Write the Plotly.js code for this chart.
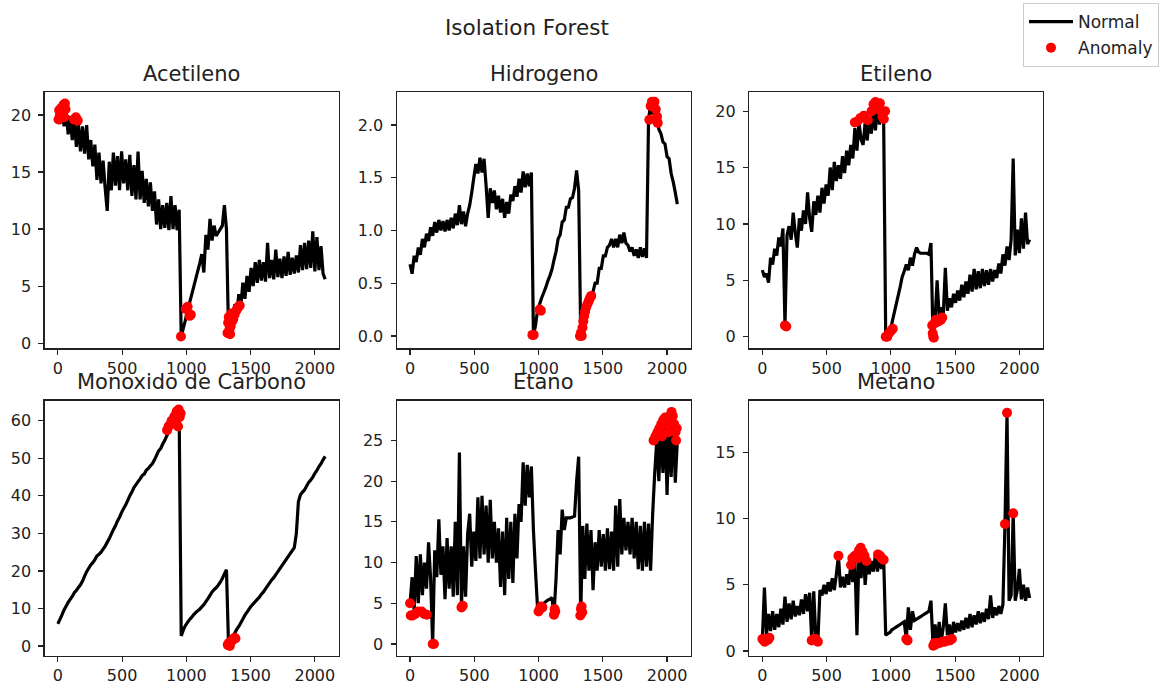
<!DOCTYPE html>
<html><head><meta charset="utf-8">
<script src="https://cdn.plot.ly/plotly-3.0.1.min.js"></script>
<style>html,body{margin:0;padding:0;background:#fff}#chart{width:1159px;height:685px}</style>
</head><body><div id="chart"></div>
<script>
// sample spacing of the series index (every 16th observation)
const STEP = 16;

const acetileno = [
20.5,19.2,20.8,19.0,20.3,18.3,19.9,17.8,19.6,17.2,
19.2,16.8,19.0,16.6,19.1,16.1,17.8,15.5,17.4,14.3,
16.7,14.0,16.0,13.6,11.6,15.9,13.4,16.7,13.8,16.4,
13.4,16.8,14.0,16.1,13.4,16.5,12.9,15.6,12.6,16.8,
12.6,15.1,12.3,14.4,12.0,14.1,11.6,13.3,10.4,12.6,
10.0,12.1,10.1,12.3,9.9,12.9,10.0,12.1,9.9,11.7,
0.6,1.3,2.0,2.8,3.5,4.2,4.9,5.6,6.3,7.0,
7.8,6.2,9.5,8.2,10.9,9.0,10.3,9.4,9.7,10.0,
10.3,12.1,10.0,1.0,2.6,1.4,3.4,2.5,4.3,3.3,
5.3,3.9,5.9,4.5,6.6,5.0,7.1,5.3,7.3,5.5,
7.1,5.4,8.8,5.7,7.3,5.6,8.2,5.8,7.4,5.7,
7.6,5.9,8.0,6.0,7.5,6.1,7.7,6.2,8.6,6.4,
8.8,6.5,9.0,6.6,9.8,6.3,9.3,6.4,8.5,6.1,
5.6];
const acetilenoAnomX = [5,10,15,25,35,45,55,60,50,125,140,155,958,995,1010,1025,1035,1320,1325,1330,1335,1340,1345,1350,1355,1365,1375,1385,1395,1405,1415];
const acetilenoAnomY = [19.6,20.4,19.9,20.6,20.2,20.9,21.0,20.5,19.8,19.6,19.8,19.5,0.6,3.0,3.2,2.4,2.5,0.9,1.8,2.3,1.2,0.8,1.5,2.6,1.9,2.1,2.5,2.8,3.0,3.2,3.3];

const hidrogeno = [
0.68,0.59,0.76,0.70,0.84,0.77,0.92,0.84,0.97,0.90,
1.03,0.95,1.08,0.98,1.10,1.00,1.09,0.99,1.10,1.00,
1.12,1.02,1.16,1.05,1.24,1.06,1.18,1.04,1.16,1.24,
1.36,1.50,1.63,1.54,1.69,1.55,1.68,1.42,1.12,1.40,
1.26,1.38,1.20,1.33,1.17,1.30,1.12,1.27,1.16,1.34,
1.28,1.42,1.32,1.49,1.36,1.56,1.41,1.54,1.42,1.55,
0.00,0.10,0.24,0.30,0.36,0.41,0.46,0.52,0.57,0.63,
0.72,0.80,0.92,0.96,1.08,1.10,1.22,1.22,1.30,1.31,
1.40,1.57,1.38,0.02,0.10,0.18,0.25,0.30,0.35,0.42,
0.50,0.50,0.64,0.64,0.76,0.76,0.84,0.86,0.92,0.84,
0.92,0.84,0.96,0.88,0.98,0.88,0.86,0.80,0.84,0.76,
0.82,0.74,0.84,0.75,0.83,0.74,2.05,2.20,2.10,2.22,
2.08,1.96,1.92,1.84,1.82,1.70,1.68,1.54,1.46,1.36,
1.25];
const hidrogenoAnomX = [952,962,1008,1018,1322,1330,1336,1342,1348,1355,1362,1370,1380,1390,1400,1410,1862,1872,1882,1892,1902,1912,1922,1927];
const hidrogenoAnomY = [0.01,0.01,0.25,0.24,0.0,0.03,0.0,0.08,0.14,0.19,0.23,0.27,0.30,0.33,0.36,0.38,2.05,2.18,2.22,2.20,2.22,2.15,2.08,2.02];

const etileno = [
5.9,5.3,5.6,4.8,7.0,6.4,7.8,7.2,8.8,8.0,
9.6,1.0,9.0,9.8,8.6,11.0,9.2,7.9,10.5,9.4,
11.2,10.0,12.8,10.5,9.3,12.0,10.8,12.5,11.0,13.2,
11.8,13.5,12.5,15.0,13.0,15.5,13.8,15.2,14.0,16.0,
14.5,16.5,15.2,17.0,15.8,18.5,16.5,19.0,17.5,17.0,
19.0,17.4,19.5,18.0,20.0,18.3,20.5,18.8,20.7,19.0,
0.0,0.3,0.5,1.2,2.0,2.8,3.6,4.4,5.3,5.8,
6.4,5.9,7.0,6.3,7.3,7.9,7.5,7.4,7.4,7.4,
7.4,7.3,8.3,0.0,1.5,5.0,1.8,2.6,2.0,6.1,
2.3,3.4,2.6,3.8,3.0,4.1,3.2,4.6,3.5,4.9,
3.8,5.5,4.0,6.0,4.2,5.8,4.3,6.0,4.5,5.9,
4.6,6.0,4.9,5.9,5.2,6.5,5.6,7.3,6.3,8.0,
6.8,8.6,15.8,7.2,9.5,7.4,10.5,7.8,11.0,8.2,
8.6];
const etilenoAnomX = [176,186,720,740,765,790,820,850,865,880,895,905,915,925,935,945,955,960,972,985,1000,1015,1322,1326,1330,1334,1340,1350,1362,1375,1390,1400];
const etilenoAnomY = [1.0,0.9,19.0,19.1,19.4,19.6,19.2,20.0,20.6,20.8,20.5,20.2,20.7,20.0,19.5,19.3,20.0,0.0,0.0,0.3,0.5,0.7,1.0,0.3,0.0,-0.1,1.2,1.5,1.3,1.4,1.5,1.7];

const monoxido = [
5.9,7.1,8.3,9.6,10.6,11.6,12.4,13.2,14.2,14.8,
15.6,16.3,17.3,18.6,19.8,20.7,21.6,22.2,23.0,24.0,
24.4,25.0,25.8,26.6,27.6,28.6,29.8,31.0,32.0,33.3,
34.3,35.6,36.6,37.6,38.8,40.0,41.0,42.2,43.0,43.8,
44.5,45.4,45.8,46.8,47.3,48.0,48.6,49.6,50.8,52.0,
52.6,53.8,54.8,56.0,57.2,58.4,59.5,60.2,61.0,61.4,
2.7,4.2,5.4,6.2,7.0,7.6,8.3,8.9,9.4,9.8,
10.4,11.0,11.8,12.6,13.5,14.4,15.0,15.5,16.2,17.0,
18.0,19.2,20.3,0.4,1.5,2.4,3.4,4.4,5.2,6.2,
7.2,8.2,9.0,9.8,10.6,11.2,11.8,12.4,13.0,13.8,
14.4,15.2,16.0,16.8,17.6,18.2,19.0,19.8,20.6,21.4,
22.2,23.0,23.8,24.6,25.4,26.2,30.0,38.5,40.3,41.0,
41.6,42.6,43.6,44.2,45.0,46.0,46.8,47.8,48.6,49.6,
50.5];
const monoxidoAnomX = [850,862,875,885,895,905,915,925,935,940,948,955,1322,1330,1338,1346,1355,1365,1375,1382];
const monoxidoAnomY = [57.5,58.5,59.0,60.0,59.5,61.0,61.5,62.5,58.5,63.0,61.0,62.0,0.3,0.8,0.0,1.0,1.5,1.8,2.2,2.0];

const etano = [
5.0,8.2,4.0,10.8,5.0,11.0,6.0,10.0,6.8,12.5,
8.0,0.0,11.5,8.2,15.3,8.5,12.0,5.5,13.0,6.8,
12.0,5.8,15.0,6.0,23.5,4.6,12.0,5.8,13.5,16.0,
9.5,13.8,10.2,18.0,10.5,18.2,11.0,17.0,10.0,17.7,
10.5,15.0,10.0,14.2,7.0,13.8,6.0,15.5,8.0,15.0,
7.5,16.0,10.5,17.2,15.0,22.3,17.0,22.0,18.0,21.8,
14.0,9.0,4.5,4.0,4.8,5.0,5.2,5.4,5.5,5.7,
3.6,8.0,14.0,11.0,16.5,14.0,15.5,15.5,15.5,15.6,
15.7,20.0,23.0,3.5,14.5,8.0,14.8,9.0,14.0,6.6,
12.5,9.0,14.0,9.5,13.5,9.0,14.2,9.2,13.8,9.0,
17.0,9.5,17.8,11.0,15.5,11.5,15.0,11.0,15.5,10.5,
15.0,9.2,14.5,9.0,15.0,9.5,14.8,9.0,16.0,21.0,
25.0,20.0,27.0,21.0,28.0,18.3,27.5,20.5,28.0,19.8,
25.0];
const etanoAnomX = [0,5,20,40,60,90,110,130,176,186,400,410,1000,1010,1020,1030,1120,1125,1130,1325,1330,1335,1340,1895,1910,1925,1940,1955,1960,1970,1985,2000,2010,2020,2035,2045,2055,2065,2070,2075];
const etanoAnomY = [5.0,3.5,3.5,3.7,4.0,4.0,3.7,3.6,0.0,0.0,4.5,4.7,4.0,4.3,4.6,4.5,3.6,4.3,4.0,3.5,4.3,4.6,3.9,25.0,25.5,26.0,26.5,27.0,25.5,27.5,27.8,27.0,26.0,28.0,28.5,28.0,27.0,26.0,25.0,26.5];

const metano = [
0.9,4.8,1.2,2.8,1.5,3.0,1.6,2.8,1.8,3.2,
2.0,4.1,2.2,3.6,2.4,3.8,2.6,3.4,2.7,3.9,
2.8,4.3,3.0,4.4,0.8,4.5,0.9,0.7,4.6,4.2,
5.0,4.3,5.2,4.5,5.5,4.6,5.8,7.2,4.8,5.6,
4.8,5.8,5.0,6.5,5.2,7.0,1.2,7.5,5.5,7.8,
5.0,7.0,5.8,6.8,6.0,7.3,6.0,7.2,6.2,7.0,
1.2,1.3,1.4,1.6,1.7,1.8,1.9,2.0,2.1,2.2,
0.9,3.3,1.6,3.0,2.3,2.4,2.5,2.6,2.7,2.8,
2.9,3.0,3.8,0.4,2.0,0.6,2.2,0.7,1.8,3.6,
1.2,2.0,0.8,2.2,1.4,2.1,1.5,2.3,1.6,2.5,
1.7,2.8,1.8,2.7,2.0,3.0,2.1,2.9,2.2,3.2,
2.4,4.2,2.5,3.3,2.7,3.4,2.8,3.5,9.6,18.0,
3.8,4.2,10.4,3.8,4.6,6.2,3.9,5.0,3.8,4.8,
4.0];
const metanoAnomX = [0,10,20,30,45,55,384,400,416,432,592,690,700,720,740,752,765,780,795,810,900,915,930,944,1120,1130,1330,1340,1350,1360,1380,1400,1420,1440,1460,1475,1888,1904,1952];
const metanoAnomY = [0.9,0.8,0.7,0.9,0.85,1.0,0.8,0.9,0.9,0.7,7.2,6.5,7.0,7.2,7.0,7.6,7.8,7.5,7.2,6.8,7.3,7.2,7.0,6.9,0.9,0.8,0.4,0.6,0.5,0.6,0.6,0.7,0.7,0.8,0.8,0.9,9.6,18.0,10.4];

const titles = ['Acetileno','Hidrogeno','Etileno','Monoxido de Carbono','Etano','Metano'];
const xTicks = [0,500,1000,1500,2000];
const yTicks = [[0,5,10,15,20],[0,0.5,1,1.5,2],[0,5,10,15,20],[0,10,20,30,40,50,60],[0,5,10,15,20,25],[0,5,10,15]];
const yFormats = ['d','.1f','d','d','d','d'];

const series = [acetileno,hidrogeno,etileno,monoxido,etano,metano];
const anomX = [acetilenoAnomX,hidrogenoAnomX,etilenoAnomX,monoxidoAnomX,etanoAnomX,metanoAnomX];
const anomY = [acetilenoAnomY,hidrogenoAnomY,etilenoAnomY,monoxidoAnomY,etanoAnomY,metanoAnomY];
const yRanges = [[-0.44,21.98],[-0.117,2.31],[-1.03,21.67],[-2.67,65.4],[-1.47,29.9],[-0.38,18.93]];

const W = 1159, H = 685;
const colPx = [[44.5,338.5],[396.7,690.7],[749,1043]];
const rowPx = [[92.3,348.3],[400.5,656]];
const FONT = 'DejaVu Sans, sans-serif';
const TXT = '#222';

const traces = [];
const layout = {
  width: W, height: H,
  margin: {l:0, r:0, t:0, b:0, autoexpand:false},
  paper_bgcolor: '#fff', plot_bgcolor: '#fff',
  font: {family: FONT, color: TXT},
  showlegend: true,
  legend: {x: 1023/W, y: 1-3/H, xanchor:'left', yanchor:'top', bgcolor:'#fff',
           bordercolor:'#ccc', borderwidth:1, font:{family:FONT, size:17, color:TXT},
           traceorder:'grouped', tracegroupgap:1, itemwidth:44},
  annotations: [{text:'Isolation Forest', xref:'paper', yref:'paper', x:526.7/W, y:1-27/H,
                 xanchor:'center', yanchor:'middle', showarrow:false, font:{family:FONT, size:21.5, color:TXT}}]
};
const axCommon = {showline:true, mirror:true, linecolor:'#222', linewidth:1.2, ticks:'outside',
  ticklen:5, tickwidth:1.2, tickcolor:'#222', showgrid:false, zeroline:false,
  tickfont:{family:FONT, size:16, color:TXT}, fixedrange:true};

for (let i = 0; i < 6; i++) {
  const s = i === 0 ? '' : String(i+1);
  const c = colPx[i % 3], r = rowPx[Math.floor(i/3)];
  const xs = series[i].map((_, k) => k * STEP);
  traces.push({x: xs, y: series[i], type:'scatter', mode:'lines', name:'Normal',
    line:{color:'#000', width:3.2, simplify:false}, xaxis:'x'+s, yaxis:'y'+s, legendgroup:'normal', showlegend: i===0, hoverinfo:'skip'});
  traces.push({x: anomX[i], y: anomY[i], type:'scatter', mode:'markers', name:'Anomaly',
    marker:{color:'#ff0000', size:10, line:{width:0}}, xaxis:'x'+s, yaxis:'y'+s, legendgroup:'anom', showlegend: i===0, hoverinfo:'skip'});
  layout['xaxis'+s] = Object.assign({}, axCommon, {domain:[c[0]/W, c[1]/W], range:[-104,2184], anchor:'y'+s, tickvals:xTicks, tickformat:'d'});
  layout['yaxis'+s] = Object.assign({}, axCommon, {domain:[1-r[1]/H, 1-r[0]/H], range:yRanges[i], anchor:'x'+s, tickvals:yTicks[i], tickformat:yFormats[i], ticklabelstandoff:4});
  const titleY = i < 3 ? 74 : 381.5;
  layout.annotations.push({text:titles[i], xref:'paper', yref:'paper', x:(c[0]+c[1])/2/W, y:1-titleY/H,
    xanchor:'center', yanchor:'middle', showarrow:false, font:{family:FONT, size:21, color:TXT}});
}
Plotly.newPlot('chart', traces, layout, {displayModeBar:false, staticPlot:true});
</script>
</body></html>
